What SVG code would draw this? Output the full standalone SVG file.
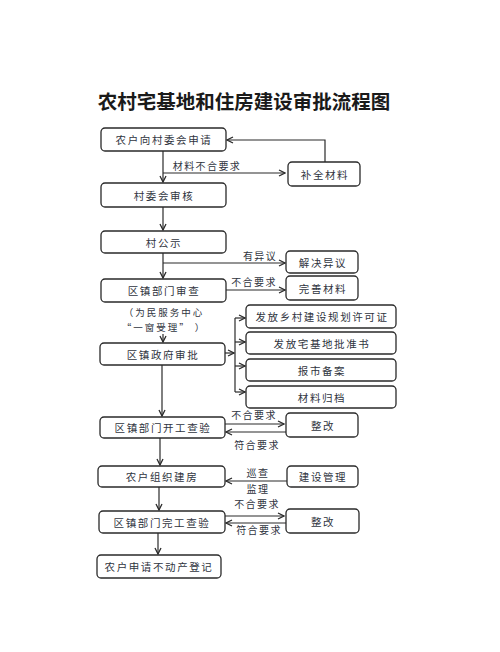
<svg xmlns="http://www.w3.org/2000/svg" width="500" height="652" viewBox="0 0 500 652">
<style>
.bg{fill:#ffffff}
.box{fill:#ffffff;stroke:#2a2a2a;stroke-width:1.3}
.t{font-family:"Noto Sans CJK SC","Noto Sans",sans-serif;font-size:10.5px;fill:#2f3440;letter-spacing:1.6px;text-anchor:middle;dominant-baseline:central}
.n{font-family:"Noto Sans CJK SC","Noto Sans",sans-serif;font-size:9.5px;fill:#2f3440;letter-spacing:2px;text-anchor:middle;dominant-baseline:central}
.lbl{font-family:"Noto Sans CJK SC","Noto Sans",sans-serif;font-size:10px;fill:#2f3440;letter-spacing:1.4px;text-anchor:middle;dominant-baseline:central}
.title{font-family:"Noto Sans CJK SC","Noto Sans",sans-serif;font-size:19.5px;font-weight:700;fill:#1a1a1a;text-anchor:middle;dominant-baseline:central}
.c{fill:none;stroke:#2a2a2a;stroke-width:1.2}
</style>
<defs>
<marker id="ar" viewBox="0 0 8 8" refX="7" refY="4" markerWidth="8" markerHeight="8" markerUnits="userSpaceOnUse" orient="auto">
<path d="M1,1 L7,4 L1,7" fill="none" stroke="#2a2a2a" stroke-width="1.3"/>
</marker>
</defs>
<rect class="bg" x="0" y="0" width="500" height="652"/>
<text class="title" x="244" y="100">农村宅基地和住房建设审批流程图</text>

<g id="connectors">
<line class="c" x1="163" y1="151" x2="163" y2="182" marker-end="url(#ar)"/>
<line class="c" x1="163" y1="173" x2="285" y2="173" marker-end="url(#ar)"/>
<path class="c" d="M325,162 V140 H227" marker-end="url(#ar)"/>
<line class="c" x1="163" y1="207" x2="163" y2="230" marker-end="url(#ar)"/>
<line class="c" x1="163" y1="253" x2="163" y2="278" marker-end="url(#ar)"/>
<line class="c" x1="163" y1="263" x2="285" y2="263" marker-end="url(#ar)"/>
<line class="c" x1="226" y1="290" x2="285" y2="290" marker-end="url(#ar)"/>
<line class="c" x1="163" y1="334" x2="163" y2="342" marker-end="url(#ar)"/>
<line class="c" x1="225" y1="353" x2="234" y2="353" marker-end="url(#ar)"/>
<line class="c" x1="235" y1="318" x2="235" y2="392"/>
<line class="c" x1="235" y1="318" x2="245" y2="318" marker-end="url(#ar)"/>
<line class="c" x1="235" y1="342" x2="245" y2="342" marker-end="url(#ar)"/>
<line class="c" x1="235" y1="366" x2="245" y2="366" marker-end="url(#ar)"/>
<line class="c" x1="235" y1="392" x2="245" y2="392" marker-end="url(#ar)"/>
<line class="c" x1="162" y1="365" x2="162" y2="416" marker-end="url(#ar)"/>
<line class="c" x1="225" y1="424" x2="284" y2="424" marker-end="url(#ar)"/>
<line class="c" x1="286" y1="432" x2="226" y2="432" marker-end="url(#ar)"/>
<line class="c" x1="160" y1="438" x2="160" y2="465" marker-end="url(#ar)"/>
<line class="c" x1="287" y1="481" x2="226" y2="481" marker-end="url(#ar)"/>
<line class="c" x1="159" y1="487" x2="159" y2="510" marker-end="url(#ar)"/>
<line class="c" x1="225" y1="516" x2="284" y2="516" marker-end="url(#ar)"/>
<line class="c" x1="286" y1="523" x2="226" y2="523" marker-end="url(#ar)"/>
<line class="c" x1="158" y1="533" x2="158" y2="554" marker-end="url(#ar)"/>
<text class="lbl" x="207" y="165">材料不合要求</text>
<text class="lbl" x="260" y="255">有异议</text>
<text class="lbl" x="254" y="281">不合要求</text>
<text class="lbl" x="254" y="414">不合要求</text>
<text class="lbl" x="257" y="444">符合要求</text>
<text class="lbl" x="258" y="472">巡查</text>
<text class="lbl" x="258" y="488">监理</text>
<text class="lbl" x="257" y="503">不合要求</text>
<text class="lbl" x="259" y="529">符合要求</text>
</g>

<g id="n1"><rect class="box" x="101" y="128" width="125" height="23" rx="4"/><text class="t" x="164" y="139.5">农户向村委会申请</text></g>
<g id="n_buquan"><rect class="box" x="288" y="162" width="72" height="24" rx="4"/><text class="t" x="325" y="174">补全材料</text></g>
<g id="n2"><rect class="box" x="101" y="183" width="125" height="24" rx="4"/><text class="t" x="164" y="195">村委会审核</text></g>
<g id="n3"><rect class="box" x="101" y="231" width="125" height="22" rx="4"/><text class="t" x="164" y="242">村公示</text></g>
<g id="n_jiejue"><rect class="box" x="286" y="251" width="72" height="22" rx="4"/><text class="t" x="323" y="262">解决异议</text></g>
<g id="n4"><rect class="box" x="101" y="279" width="125" height="23" rx="4"/><text class="t" x="164" y="290.5">区镇部门审查</text></g>
<g id="n_wanshan"><rect class="box" x="286" y="276" width="72" height="24" rx="4"/><text class="t" x="323" y="288">完善材料</text></g>
<g id="n_note"><text class="n" x="164" y="312">（为民服务中心</text><text class="n" x="164" y="327">“一窗受理” ）</text></g>
<g id="n5"><rect class="box" x="100" y="343" width="125" height="22" rx="4"/><text class="t" x="163" y="354">区镇政府审批</text></g>
<g id="n_a"><rect class="box" x="246" y="305" width="150" height="23" rx="4"/><text class="t" x="322" y="316.5">发放乡村建设规划许可证</text></g>
<g id="n_b"><rect class="box" x="246" y="332" width="150" height="22" rx="4"/><text class="t" x="322" y="343">发放宅基地批准书</text></g>
<g id="n_c"><rect class="box" x="246" y="359" width="150" height="22" rx="4"/><text class="t" x="322" y="370">报市备案</text></g>
<g id="n_d"><rect class="box" x="246" y="386" width="150" height="22" rx="4"/><text class="t" x="322" y="397">材料归档</text></g>
<g id="n6"><rect class="box" x="100" y="417" width="125" height="21" rx="4"/><text class="t" x="163" y="427.5">区镇部门开工查验</text></g>
<g id="n_zg1"><rect class="box" x="286" y="413" width="72" height="24" rx="4"/><text class="t" x="323" y="425">整改</text></g>
<g id="n7"><rect class="box" x="98" y="466" width="127" height="21" rx="4"/><text class="t" x="162" y="476.5">农户组织建房</text></g>
<g id="n_jsgl"><rect class="box" x="287" y="466" width="71" height="21" rx="4"/><text class="t" x="323" y="476.5">建设管理</text></g>
<g id="n8"><rect class="box" x="99" y="511" width="126" height="22" rx="4"/><text class="t" x="162" y="522">区镇部门完工查验</text></g>
<g id="n_zg2"><rect class="box" x="286" y="509" width="73" height="24" rx="4"/><text class="t" x="323" y="521">整改</text></g>
<g id="n9"><rect class="box" x="97" y="555" width="124" height="23" rx="4"/><text class="t" x="159" y="566.5">农户申请不动产登记</text></g>
</svg>
